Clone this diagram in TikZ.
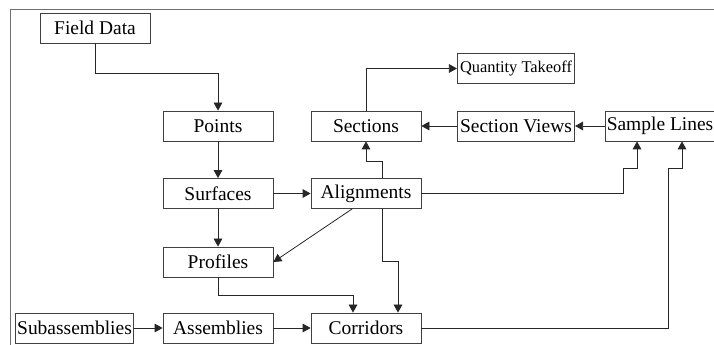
\documentclass[tikz,border=0pt]{standalone}
\usepackage{fontspec}
\setmainfont{Liberation Serif}
\usepackage{xcolor}
\usetikzlibrary{arrows.meta}
\definecolor{framegray}{HTML}{707070}
\definecolor{boxgray}{HTML}{404040}

\begin{document}
\begin{tikzpicture}[x=0.75pt,y=-0.75pt,line width=0.6pt,
    every node/.style={font=\fontsize{14.6}{16}\selectfont},
    stagebox/.style={draw=boxgray,minimum width=82.5pt,minimum height=22.5pt,inner sep=0pt},
    widebox/.style={stagebox,minimum width=88pt},
    flow/.style={-{Triangle[length=6pt,width=6.5pt]},draw=black!85}]
    \useasboundingbox (0,0) rectangle (714,345);
    % -------------------------
    % Outer frame (left and top only)
    % -------------------------
    \draw[framegray] (10,345) -- (10,9) -- (714,9);

    % -------------------------
    % Boxes
    % -------------------------
    \node[stagebox] (field) at (95,28) {Field Data};
    \node[stagebox] (points) at (218,126) {Points};
    \node[stagebox] (sections) at (366,126) {Sections};
    \node[widebox,font=\fontsize{12.3}{14}\selectfont] (takeoff) at (516,68.5) {Quantity Takeoff};
    \node[widebox] (views) at (516,126) {Section Views};
    \node[stagebox] (samples) at (660,126) {Sample Lines};
    \node[stagebox] (surfaces) at (218,193.5) {Surfaces};
    \node[stagebox] (alignments) at (366,193.5) {Alignments};
    \node[stagebox] (profiles) at (218,262) {Profiles};
    \node[widebox] (subasm) at (74.5,328) {Subassemblies};
    \node[stagebox] (assemblies) at (218,328) {Assemblies};
    \node[stagebox] (corridors) at (366,328) {Corridors};

    % -------------------------
    % Connectors
    % -------------------------
    \draw[flow] (field.south) -- ++(0,30) -| (points.north);
    \draw[flow] (points) -- (surfaces);
    \draw[flow] (surfaces) -- (profiles);
    \draw[flow] (surfaces) -- (alignments);
    \draw[flow] (alignments.228) -- (profiles.east);
    \draw[flow] ([xshift=12pt]alignments.south) -- ++(0,53) -| ([xshift=24pt]corridors.north);
    \draw[flow] (profiles.south) -- ++(0,18) -| ([xshift=-9.75pt]corridors.north);
    \draw[flow] (subasm) -- (assemblies);
    \draw[flow] (assemblies) -- (corridors);
    \draw[flow] ([xshift=12pt]alignments.north) -- ++(0,-17) -| (sections.south);
    \draw[flow] (sections.north) |- (takeoff.west);
    \draw[flow] (views) -- (sections);
    \draw[flow] (samples) -- (views);
    % to the sample lines
    \draw[flow] (alignments.east) -| (623,168) -| ([xshift=-17.25pt]samples.south);
    \draw[flow] (corridors.east) -| (668,168) -| ([xshift=16.5pt]samples.south);

\end{tikzpicture}
\end{document}
